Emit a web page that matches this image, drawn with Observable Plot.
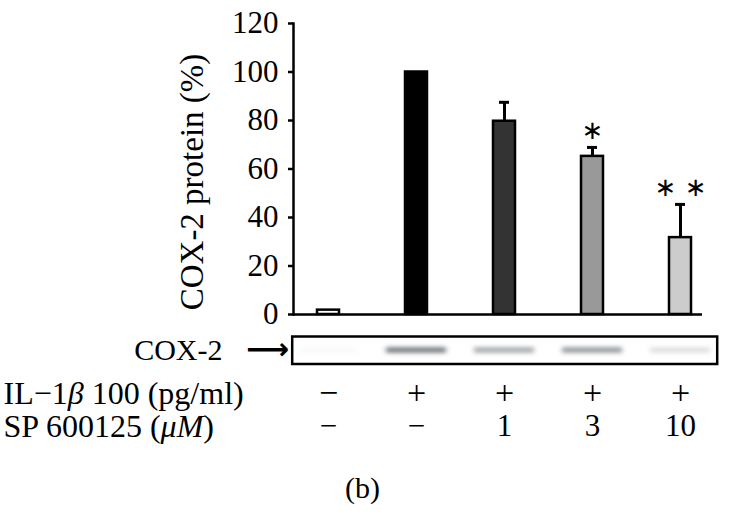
<!DOCTYPE html>
<html>
<head>
<meta charset="utf-8">
<script src="https://cdn.jsdelivr.net/npm/d3@7"></script>
<script src="https://cdn.jsdelivr.net/npm/@observablehq/plot@0.6"></script>
<style>
  html, body { margin: 0; padding: 0; background: white; }
</style>
</head>
<body>
<script>
// ---- data ----
const lanes = ["Control", "IL-1β", "IL-1β + SP 1", "IL-1β + SP 3", "IL-1β + SP 10"];
const cox2 = [1.8, 100, 79.7, 65.2, 31.7];          // COX-2 protein (%)
const sem = [0, 0, 7.8, 3.7, 13.7];                  // upper error
const sig = ["", "", "", "∗", "∗ ∗"];                // significance marks
const il1b = ["−", "+", "+", "+", "+"];              // IL-1β 100 pg/ml
const sp600125 = ["−", "−", "1", "3", "10"];         // SP 600125 (μM)
const blotDensity = [0.04, 0.85, 0.55, 0.65, 0.2];   // western blot band intensity
const yTicks = [0, 20, 40, 60, 80, 100, 120];

const rows = lanes.map((lane, i) => ({
  lane, value: cox2[i], err: sem[i], sig: sig[i],
  il1b: il1b[i], sp: sp600125[i], density: blotDensity[i]
}));
const withErr = rows.filter(d => d.err > 0);

const chart = Plot.plot({
  width: 742,
  height: 516,
  marginLeft: 293,
  marginRight: 40,
  marginTop: 23,
  marginBottom: 202,
  style: {fontFamily: "'Liberation Serif', 'Times New Roman', serif", fontSize: "30px", background: "white", color: "black"},
  x: {domain: lanes, paddingInner: 0.752, paddingOuter: 0.18, align: 0.67, axis: null},
  y: {domain: [0, 120], axis: null},
  color: {domain: lanes, range: ["white", "black", "#333333", "#999999", "#cccccc"]},
  marks: [
    Plot.axisY(yTicks, {tickSize: 5, tickPadding: 10, strokeWidth: 2.5, label: null, fontSize: 31}),
    Plot.frame({anchor: "left", strokeWidth: 2.5}),
    Plot.barY(rows, {x: "lane", y: "value", fill: "lane", stroke: "black", strokeWidth: 2.5}),
    Plot.ruleX(withErr, {x: "lane", y1: "value", y2: d => d.value + d.err, strokeWidth: 3}),
    Plot.tickY(withErr, {x: "lane", y: d => d.value + d.err, strokeWidth: 3, insetLeft: 6, insetRight: 6}),
    Plot.ruleY([0], {strokeWidth: 2.5}),
    Plot.text(rows, {x: "lane", y: d => d.value + d.err, text: "sig", dy: -17, lineAnchor: "middle",
      fontFamily: "DejaVu Sans", fontSize: 26}),
    // y-axis title
    Plot.text(["COX-2 protein (%)"], {frameAnchor: "left", rotate: -90, dx: -101, dy: 13,
      textAnchor: "middle", lineAnchor: "middle", fontSize: 33}),
    // western blot
    Plot.rect(rows, {x: "lane", fill: "#1e2a30", fillOpacity: "density",
      insetTop: 325, insetBottom: -38, insetLeft: -19, insetRight: -19, className: "blot-bands"}),
    Plot.frame({insetTop: 313, insetBottom: -49.5, insetLeft: -1.3, insetRight: -14.7, strokeWidth: 2.5}),
    Plot.text(["COX-2"], {frameAnchor: "bottom-left", dx: -71, dy: 36, textAnchor: "end", lineAnchor: "middle"}),
    Plot.text(["⟶"], {frameAnchor: "bottom-left", dx: -26, dy: 35, textAnchor: "middle", lineAnchor: "middle",
      fontFamily: "DejaVu Sans", fontSize: 30, fontWeight: "bold"}),
    // treatment rows
    Plot.text(["IL−1β 100 (pg/ml)"], {frameAnchor: "bottom-left", dx: -290, dy: 79, textAnchor: "start",
      lineAnchor: "middle", fontSize: 32, className: "row-il"}),
    Plot.text(["SP 600125 (μM)"], {frameAnchor: "bottom-left", dx: -290, dy: 112, textAnchor: "start",
      lineAnchor: "middle", fontSize: 32, className: "row-sp"}),
    Plot.text(rows, {x: "lane", text: "il1b", frameAnchor: "bottom", dy: 79, lineAnchor: "middle", fontSize: 34}),
    Plot.text(rows, {x: "lane", text: "sp", frameAnchor: "bottom", dy: 112, lineAnchor: "middle", fontSize: 31}),
    Plot.text(["(b)"], {frameAnchor: "bottom-left", dx: 69, dy: 174, textAnchor: "middle", lineAnchor: "middle"})
  ]
});

d3.select(chart).selectAll(".blot-bands").style("filter", "blur(2.5px)");
d3.select(chart).selectAll(".row-il text").html('IL−1<tspan font-style="italic">β</tspan> 100 (pg/ml)');
d3.select(chart).selectAll(".row-sp text").html('SP 600125 (<tspan font-style="italic">μM</tspan>)');

document.body.appendChild(chart);
</script>
</body>
</html>
